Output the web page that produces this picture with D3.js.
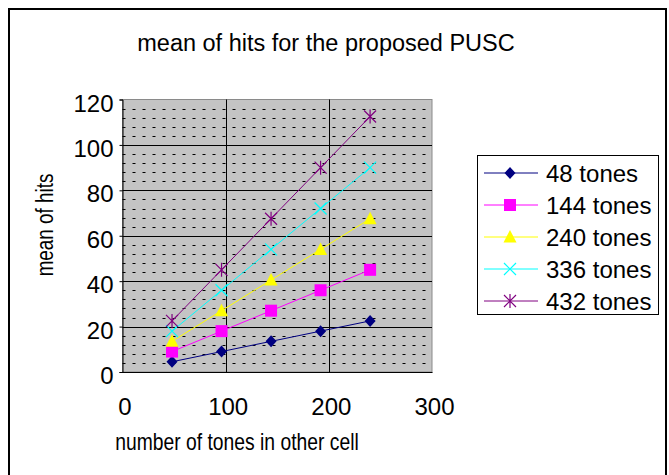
<!DOCTYPE html>
<html>
<head>
<meta charset="utf-8">
<script src="https://cdn.jsdelivr.net/npm/d3@7"></script>
<style>
  html, body { margin: 0; padding: 0; background: #fff; }
  svg { display: block; }
  text { font-family: "Liberation Sans", Arial, Helvetica, sans-serif; fill: #000; }
</style>
</head>
<body>
<svg id="chart" width="669" height="475"></svg>
<script>
// ---- data ----
const chartTitle = "mean of hits for the proposed PUSC";
const xTitle = "number of tones in other cell";
const yTitle = "mean of hits";
const otherCellTones = [48, 96, 144, 192, 240];
const seriesNames = ["48 tones", "144 tones", "240 tones", "336 tones", "432 tones"];
const hits48  = [4.5, 9, 13.5, 18, 22.5];
const hits144 = [9, 18, 27, 36, 45];
const hits240 = [13.5, 27, 40.5, 54, 67.5];
const hits336 = [18, 36, 54, 72, 90];
const hits432 = [22.5, 45, 67.5, 90, 112.5];
const xTicks = [0, 100, 200, 300];
const yTicks = [0, 20, 40, 60, 80, 100, 120];
const yMinor = d3.range(0, 121, 4).filter(v => v % 20 !== 0);

const seriesValues = [hits48, hits144, hits240, hits336, hits432];
const colors = ["#000080", "#FF00FF", "#FFFF00", "#00FFFF", "#800080"];
const markers = ["diamond", "square", "triangle", "x", "star"];

const svg = d3.select("#chart");

// outer frame
svg.append("rect").attr("x", 9).attr("y", 9).attr("width", 657).attr("height", 480)
  .attr("fill", "#fff").attr("stroke", "#000").attr("stroke-width", 2);

const L = 122.5, R = 432, T = 99.5, B = 372;
const x = d3.scaleLinear().domain([0, 300]).range([L, R]);
const y = d3.scaleLinear().domain([0, 120]).range([B, T]);

// plot area background
svg.append("rect").attr("x", L).attr("y", T).attr("width", R - L).attr("height", B - T)
  .attr("fill", "#c4c4c4").attr("stroke", "#8a8a8a").attr("stroke-width", 1);

// minor dashed horizontal lines
svg.append("g").selectAll("line").data(yMinor).join("line")
  .attr("x1", L).attr("x2", R)
  .attr("y1", d => Math.round(y(d)) + 0.5).attr("y2", d => Math.round(y(d)) + 0.5)
  .attr("stroke", "#000").attr("stroke-width", 1).attr("stroke-dasharray", "3,7");

// major gridlines
svg.append("g").selectAll("line").data(yTicks.filter(v => v > 0 && v < 120)).join("line")
  .attr("x1", L).attr("x2", R)
  .attr("y1", d => Math.round(y(d)) + 0.5).attr("y2", d => Math.round(y(d)) + 0.5)
  .attr("stroke", "#000").attr("stroke-width", 1);
svg.append("g").selectAll("line").data(xTicks.filter(v => v > 0 && v < 300)).join("line")
  .attr("y1", T).attr("y2", B)
  .attr("x1", d => Math.round(x(d)) + 0.5).attr("x2", d => Math.round(x(d)) + 0.5)
  .attr("stroke", "#000").attr("stroke-width", 1);

// axes
const yAxis = d3.axisLeft(y).tickValues(yTicks).tickSize(3).tickFormat(d3.format("d"));
const gy = svg.append("g").attr("transform", `translate(${L},0)`).call(yAxis);
gy.select(".domain").attr("stroke", "#000");
gy.selectAll(".tick line").attr("stroke", "#000");
gy.selectAll(".tick text").attr("x", -9).attr("dy", "0.36em").attr("y", 3)
  .style("font-size", "24px").style("font-family", "'Liberation Sans', Arial, sans-serif");

const xAxis = d3.axisBottom(x).tickValues(xTicks).tickSize(0).tickFormat(d3.format("d"));
const gx = svg.append("g").attr("transform", `translate(0,${B})`).call(xAxis);
gx.select(".domain").attr("stroke", "#000");
gx.selectAll(".tick text").attr("y", 43).attr("dy", 0).attr("dx", 2)
  .style("font-size", "24px").style("font-family", "'Liberation Sans', Arial, sans-serif");

// titles
svg.append("text").attr("x", 326).attr("y", 51).attr("text-anchor", "middle")
  .style("font-size", "23.5px").text(chartTitle);
svg.append("text").attr("transform", "translate(237,450) scale(0.84,1)").attr("text-anchor", "middle")
  .style("font-size", "23px").text(xTitle);
svg.append("text").attr("transform", "translate(53,225) rotate(-90) scale(0.82,1)").attr("text-anchor", "middle")
  .style("font-size", "23px").text(yTitle);

// marker drawing
function drawMarker(g, type, color) {
  if (type === "diamond") {
    g.append("path").attr("d", "M0,-6L5.5,0L0,6L-5.5,0Z").attr("fill", color);
  } else if (type === "square") {
    g.append("rect").attr("x", -6).attr("y", -6).attr("width", 12).attr("height", 12).attr("fill", color);
  } else if (type === "triangle") {
    g.append("path").attr("d", "M0,-7L6.5,5.5L-6.5,5.5Z").attr("fill", color);
  } else if (type === "x") {
    g.append("path").attr("d", "M-6,-6L6,6M6,-6L-6,6").attr("stroke", color).attr("stroke-width", 1.2).attr("fill", "none");
  } else if (type === "star") {
    g.append("path").attr("d", "M-6,-6L6,6M6,-6L-6,6M0,-7L0,7").attr("stroke", color).attr("stroke-width", 1.2).attr("fill", "none");
  }
}

const line = d3.line().x(d => x(d[0])).y(d => y(d[1]));
seriesValues.forEach((vals, i) => {
  const pts = otherCellTones.map((t, j) => [t, vals[j]]);
  svg.append("path").attr("d", line(pts)).attr("fill", "none")
    .attr("stroke", colors[i]).attr("stroke-width", 1);
});
seriesValues.forEach((vals, i) => {
  otherCellTones.forEach((t, j) => {
    const g = svg.append("g").attr("transform", `translate(${x(t)},${y(vals[j])})`);
    drawMarker(g, markers[i], colors[i]);
  });
});

// legend
const lg = svg.append("g");
lg.append("rect").attr("x", 477.5).attr("y", 155.5).attr("width", 181).attr("height", 159)
  .attr("fill", "#fff").attr("stroke", "#000").attr("stroke-width", 1);
const rowY = d3.scalePoint().domain(seriesNames).range([173, 301]);
seriesNames.forEach((name, i) => {
  const cy = rowY(name);
  lg.append("line").attr("x1", 484).attr("x2", 538).attr("y1", cy).attr("y2", cy)
    .attr("stroke", colors[i]).attr("stroke-width", 1);
  const g = lg.append("g").attr("transform", `translate(510,${cy})`);
  drawMarker(g, markers[i], colors[i]);
  lg.append("text").attr("x", 546).attr("y", cy).attr("dy", "0.36em")
    .style("font-size", "24px").text(name);
});
</script>
</body>
</html>
